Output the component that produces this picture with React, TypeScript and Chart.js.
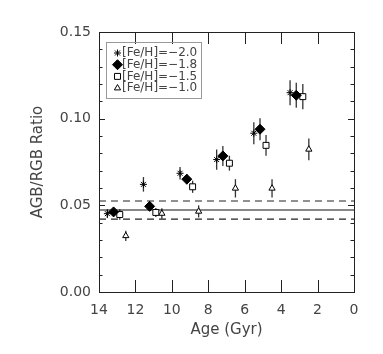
import React, { useEffect, useRef } from 'react';
import { Chart, registerables } from 'chart.js';
Chart.register(...registerables);

const seriesLabels = ['[Fe/H]=\u22122.0', '[Fe/H]=\u22121.8', '[Fe/H]=\u22121.5', '[Fe/H]=\u22121.0'];

const agesFe20 = [13.54, 11.56, 9.55, 7.54, 5.50, 3.51];
const ratioFe20 = [0.0452, 0.0621, 0.0685, 0.0764, 0.0916, 0.1150];
const errFe20 = [0.0026, 0.0042, 0.0036, 0.0058, 0.0063, 0.0072];

const agesFe18 = [13.20, 11.22, 9.18, 7.20, 5.16, 3.17];
const ratioFe18 = [0.0462, 0.0494, 0.0651, 0.0785, 0.0939, 0.1135];
const errFe18 = [0.0025, 0.0026, 0.0030, 0.0058, 0.0063, 0.0072];

const agesFe15 = [12.86, 10.88, 8.86, 6.84, 4.83, 2.81];
const ratioFe15 = [0.0447, 0.0459, 0.0607, 0.0743, 0.0846, 0.1127];
const errFe15 = [0.0030, 0.0026, 0.0035, 0.0043, 0.0060, 0.0073];

const agesFe10 = [12.53, 10.55, 8.53, 6.51, 4.50, 2.48];
const ratioFe10 = [0.0324, 0.0453, 0.0465, 0.0598, 0.0598, 0.0823];
const errFe10 = [0.0030, 0.0030, 0.0035, 0.0053, 0.0053, 0.0063];

const refSolid = 0.0473;
const refDashed = [0.0525, 0.0420];

const xTickValues = [14, 12, 10, 8, 6, 4, 2, 0];
const yTickValues = [0, 0.05, 0.10, 0.15];

const FONT = 'DejaVu Sans';
const TEXT = '#444';

type Style = { pointStyle: string; radius: number; fill: string };
const styles: Style[] = [
  { pointStyle: 'star', radius: 3.5, fill: '#000' },
  { pointStyle: 'rectRot', radius: 5, fill: '#000' },
  { pointStyle: 'rect', radius: 4.2, fill: '#fff' },
  { pointStyle: 'triangle', radius: 3.6, fill: '#fff' },
];

const seriesAges = [agesFe20, agesFe18, agesFe15, agesFe10];
const seriesRatios = [ratioFe20, ratioFe18, ratioFe15, ratioFe10];
const seriesErrs = [errFe20, errFe18, errFe15, errFe10];

function drawMarker(ctx: CanvasRenderingContext2D, st: Style, x: number, y: number) {
  const r = st.radius;
  ctx.save();
  ctx.beginPath();
  ctx.strokeStyle = '#000';
  ctx.fillStyle = st.fill;
  ctx.lineWidth = 1;
  if (st.pointStyle === 'star') {
    ctx.moveTo(x - r, y); ctx.lineTo(x + r, y);
    ctx.moveTo(x, y - r); ctx.lineTo(x, y + r);
    const d = r * Math.SQRT1_2;
    ctx.moveTo(x - d, y - d); ctx.lineTo(x + d, y + d);
    ctx.moveTo(x - d, y + d); ctx.lineTo(x + d, y - d);
    ctx.stroke();
  } else if (st.pointStyle === 'rectRot') {
    ctx.moveTo(x, y - r); ctx.lineTo(x + r, y); ctx.lineTo(x, y + r); ctx.lineTo(x - r, y); ctx.closePath();
    ctx.fill(); ctx.stroke();
  } else if (st.pointStyle === 'rect') {
    const s = r * Math.SQRT1_2;
    ctx.rect(x - s, y - s, 2 * s, 2 * s);
    ctx.fill(); ctx.stroke();
  } else {
    ctx.moveTo(x, y - r); ctx.lineTo(x + r * 0.866, y + r * 0.5); ctx.lineTo(x - r * 0.866, y + r * 0.5); ctx.closePath();
    ctx.fill(); ctx.stroke();
  }
  ctx.restore();
}

const errorBars = {
  id: 'errorBars',
  beforeDatasetsDraw(chart: any) {
    const { ctx, scales: { x, y } } = chart;
    ctx.save();
    ctx.strokeStyle = '#333';
    ctx.lineWidth = 1.3;
    seriesAges.forEach((ages, si) => {
      ages.forEach((a, i) => {
        const px = x.getPixelForValue(a);
        const v = seriesRatios[si][i];
        const e = seriesErrs[si][i];
        ctx.beginPath();
        ctx.moveTo(px, y.getPixelForValue(v - e));
        ctx.lineTo(px, y.getPixelForValue(v + e));
        ctx.stroke();
      });
    });
    ctx.restore();
  },
};

const frame = {
  id: 'frame',
  afterDraw(chart: any) {
    const { ctx, chartArea, scales: { x, y } } = chart;
    const { left, right, top, bottom } = chartArea;
    ctx.save();
    ctx.strokeStyle = '#222';
    ctx.lineWidth = 1;
    ctx.strokeRect(Math.round(left) + 0.5, Math.round(top) + 0.5, Math.round(right - left), Math.round(bottom - top));
    ctx.beginPath();
    xTickValues.forEach((v) => {
      const px = Math.round(x.getPixelForValue(v)) + 0.5;
      ctx.moveTo(px, bottom); ctx.lineTo(px, bottom - 12);
      ctx.moveTo(px, top); ctx.lineTo(px, top + 12);
    });
    for (let k = 0; k <= 15; k++) {
      const v = k * 0.01;
      const py = Math.round(y.getPixelForValue(v)) + 0.5;
      const len = k % 5 === 0 ? 6 : 3.5;
      ctx.moveTo(left, py); ctx.lineTo(left + len, py);
      ctx.moveTo(right, py); ctx.lineTo(right - len, py);
    }
    ctx.stroke();

    // legend
    const bx = 106.5, by = 42.5, bw = 95, bh = 56;
    ctx.strokeStyle = '#999';
    ctx.strokeRect(bx, by, bw, bh);
    ctx.font = `12px "${FONT}"`;
    ctx.textBaseline = 'middle';
    ctx.textAlign = 'left';
    seriesLabels.forEach((lab, i) => {
      const cy = 53 + i * 11.7;
      drawMarker(ctx, styles[i], 117.5, cy);
      ctx.fillStyle = TEXT;
      ctx.fillText(lab, 122, cy);
    });
    ctx.restore();
  },
};

export default function App() {
  const ref = useRef<HTMLCanvasElement | null>(null);
  useEffect(() => {
    if (!ref.current) return;
    Chart.defaults.font.family = FONT;
    const datasets: any[] = seriesAges.map((ages, si) => ({
      type: 'scatter',
      label: seriesLabels[si],
      data: ages.map((a, i) => ({ x: a, y: seriesRatios[si][i] })),
      pointStyle: styles[si].pointStyle,
      pointRadius: styles[si].radius,
      pointBackgroundColor: styles[si].fill,
      pointBorderColor: '#000',
      pointBorderWidth: 1,
      showLine: false,
    }));
    datasets.push({
      type: 'line',
      label: 'solid',
      data: [{ x: 14, y: refSolid }, { x: 0, y: refSolid }],
      borderColor: '#111',
      borderWidth: 1.2,
      pointRadius: 0,
    });
    refDashed.forEach((v, i) => {
      datasets.push({
        type: 'line',
        label: 'dashed' + i,
        data: [{ x: 14, y: v }, { x: 0, y: v }],
        borderColor: '#222',
        borderWidth: 1.2,
        borderDash: [7, 5],
        pointRadius: 0,
      });
    });
    const chart = new Chart(ref.current, {
      type: 'scatter',
      data: { datasets },
      options: {
        animation: false,
        responsive: true,
        maintainAspectRatio: false,
        layout: { padding: { left: 0, right: 29, top: 32, bottom: 0 } },
        plugins: { legend: { display: false }, tooltip: { enabled: false } },
        scales: {
          x: {
            type: 'linear',
            reverse: true,
            min: 0,
            max: 14,
            afterBuildTicks: (s: any) => { s.ticks = xTickValues.map((v) => ({ value: v })); },
            afterFit: (s: any) => { s.height = 62; },
            grid: { display: false, drawTicks: false },
            border: { display: false },
            ticks: { color: TEXT, font: { size: 14 }, padding: 10, maxRotation: 0, autoSkip: false, callback: (v: any) => String(v) },
            title: { display: true, text: 'Age (Gyr)', color: TEXT, font: { size: 15 }, padding: { top: 0, bottom: 15 } },
          },
          y: {
            type: 'linear',
            min: 0,
            max: 0.15,
            afterBuildTicks: (s: any) => { s.ticks = yTickValues.map((v) => ({ value: v })); },
            afterFit: (s: any) => { s.width = 99; },
            grid: { display: false, drawTicks: false },
            border: { display: false },
            ticks: { color: TEXT, font: { size: 14 }, padding: 8, autoSkip: false, callback: (v: any) => Number(v).toFixed(2) },
            title: { display: true, text: 'AGB/RGB Ratio', color: TEXT, font: { size: 15 }, padding: { top: 29, bottom: 0 } },
          },
        },
      },
      plugins: [errorBars, frame],
    } as any);
    return () => chart.destroy();
  }, []);
  return (
    <div style={{ position: 'absolute', left: 0, top: 0, width: 383, height: 354, background: '#fff' }}>
      <canvas ref={ref} />
    </div>
  );
}
